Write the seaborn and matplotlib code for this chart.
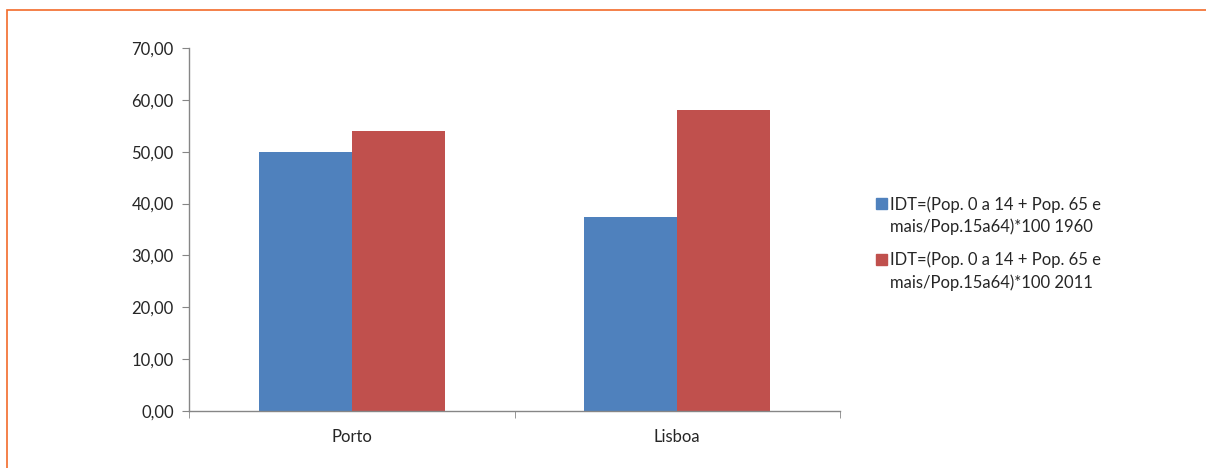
import matplotlib
matplotlib.use("Agg")
import matplotlib.pyplot as plt
import matplotlib.patches as mpatches
from matplotlib.legend_handler import HandlerPatch
import pandas as pd
import seaborn as sns

# ========================
# DATA
# ========================
cidades    = ["Porto", "Lisboa"]
series     = ["IDT=(Pop. 0 a 14 + Pop. 65 e\nmais/Pop.15a64)*100 1960",
              "IDT=(Pop. 0 a 14 + Pop. 65 e\nmais/Pop.15a64)*100 2011"]
idt_1960   = [49.95, 37.5]
idt_2011   = [54.05, 58.1]
y_ticks    = [0, 10, 20, 30, 40, 50, 60, 70]
cores      = ["#4F81BD", "#C0504D"]

df = pd.DataFrame({
    "cidade": cidades * 2,
    "serie":  [series[0]] * 2 + [series[1]] * 2,
    "valor":  idt_1960 + idt_2011,
})

# ========================
# PLOT
# ========================
sns.set_style("white")
plt.rcParams["font.family"] = ["Lato", "DejaVu Sans"]

fig = plt.figure(figsize=(12.06, 4.68), dpi=100)
ax = fig.add_axes([189 / 1206, 1 - 411 / 468, (840 - 189) / 1206, (411 - 48) / 468])

sns.barplot(data=df, x="cidade", y="valor", hue="serie", palette=cores,
            width=0.57, saturation=1, linewidth=0, ax=ax, legend=False)

ax.set_ylim(0, 70)
ax.set_xlim(-0.5, 1.5)
ax.set_yticks(y_ticks)
ax.set_yticklabels([f"{v:.2f}".replace(".", ",") for v in y_ticks])
ax.set_xlabel("")
ax.set_ylabel("")

for s in ["top", "right"]:
    ax.spines[s].set_visible(False)
for s in ["left", "bottom"]:
    ax.spines[s].set_color("#868686")
    ax.spines[s].set_linewidth(1)

ax.tick_params(axis="y", which="major", length=5, color="#868686",
               labelsize=12, pad=6, left=True)
ax.tick_params(axis="x", which="major", length=0, labelsize=12, pad=13)
ax.set_xticks([-0.5, 0.5, 1.5], minor=True)
ax.tick_params(axis="x", which="minor", length=5, color="#868686", bottom=True)


# legend square next to the first text line (as in Excel)
def quadrado(legend, orig_handle, xdescent, ydescent, width, height, fontsize):
    return mpatches.Rectangle((-xdescent, -ydescent + 0.78 * fontsize), width, height)


handles = [mpatches.Patch(color=c, label=l) for c, l in zip(cores, series)]
leg = fig.legend(handles=handles, loc="upper left", bbox_to_anchor=(861 / 1206, 1 - 181 / 468),
                 frameon=False, fontsize=12, handlelength=0.65, handleheight=0.65,
                 handletextpad=0.2, labelspacing=1.0,
                 handler_map={mpatches.Patch: HandlerPatch(patch_func=quadrado)})
for t in leg.get_texts():
    t.set_linespacing(1.45)

# moldura laranja
fig.add_artist(mpatches.Rectangle((7 / 1206, -0.05), 1.1, 1 - 10 / 468 + 0.05,
                                  transform=fig.transFigure, fill=False,
                                  edgecolor="#F26B2A", linewidth=1.2))

fig.savefig("out.png", dpi=100)
